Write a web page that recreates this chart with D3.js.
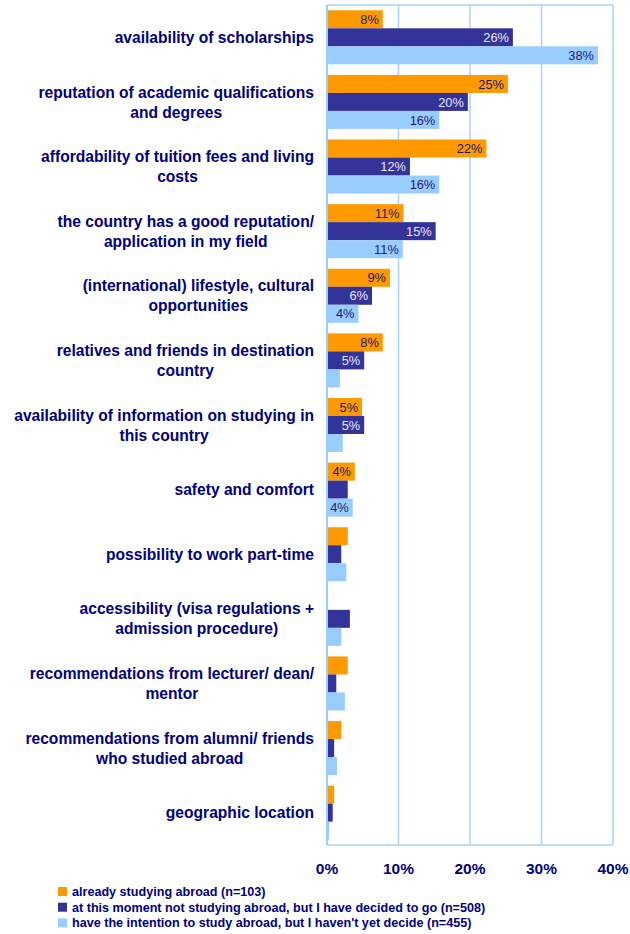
<!DOCTYPE html>
<html>
<head>
<meta charset="utf-8">
<script src="https://cdn.jsdelivr.net/npm/d3@7"></script>
<style>
  body { margin: 0; background: #fff; }
  svg { display: block; font-family: Arial, "Liberation Sans", sans-serif; }
</style>
</head>
<body>
<svg id="svg" width="630" height="934"></svg>
<script>
// reasons (each entry = lines of the wrapped label)
var categories = [
  ['availability of scholarships'],
  ['reputation of academic qualifications', 'and degrees'],
  ['affordability of tuition fees and living', 'costs'],
  ['the country has a good reputation/', 'application in my field'],
  ['(international) lifestyle, cultural', 'opportunities'],
  ['relatives and friends in destination', 'country'],
  ['availability of information on studying in', 'this country'],
  ['safety and comfort'],
  ['possibility to work part-time'],
  ['accessibility (visa regulations +', 'admission procedure)'],
  ['recommendations from lecturer/ dean/', 'mentor'],
  ['recommendations from alumni/ friends', 'who studied abroad'],
  ['geographic location']
];

var seriesNames = [
  'already studying abroad (n=103)',
  'at this moment not studying abroad, but I have decided to go (n=508)',
  "have the intention to study abroad, but I haven't yet decide (n=455)"
];

var alreadyAbroad = [7.8, 25.3, 22.3, 10.7, 8.8, 7.8, 4.9, 3.9, 2.9, 0, 2.9, 2.0, 1.0];
var decidedToGo   = [26.0, 19.7, 11.6, 15.2, 6.3, 5.2, 5.2, 2.9, 2.0, 3.2, 1.3, 1.0, 0.8];
var intention     = [37.9, 15.7, 15.7, 10.6, 4.4, 1.8, 2.2, 3.6, 2.7, 2.0, 2.5, 1.4, 0.3];

var xTicks = [0, 10, 20, 30, 40];

var colors = ['#FF9900', '#333399', '#99CCFF'];
var labelColors = ['#1a1a6e', '#e8e8f4', '#1a1a80'];
var navy = '#000080';

var svg = d3.select('svg');

var plotLeft = 327, plotRight = 613, plotTop = 5, plotBottom = 845;

var x = d3.scaleLinear().domain([0, 40]).range([plotLeft, plotRight]);

var y = d3.scaleBand()
    .domain(d3.range(categories.length))
    .range([plotTop, plotBottom])
    .paddingInner(0.164)
    .paddingOuter(0.082);

var ySub = d3.scaleBand()
    .domain([0, 1, 2])
    .range([0, y.bandwidth()]);

var values = [alreadyAbroad, decidedToGo, intention];

// grid + frame
svg.selectAll('.grid')
    .data(xTicks.slice(1))
    .enter()
    .append('line')
    .attr('class', 'grid')
    .attr('x1', function (d) { return x(d); })
    .attr('x2', function (d) { return x(d); })
    .attr('y1', plotTop)
    .attr('y2', plotBottom)
    .attr('stroke', '#a8d2fc')
    .attr('stroke-width', 1.5);

svg.append('line')
    .attr('x1', plotLeft).attr('x2', plotRight)
    .attr('y1', plotTop).attr('y2', plotTop)
    .attr('stroke', '#a8d2fc')
    .attr('stroke-width', 1.5);

svg.append('line')
    .attr('x1', plotLeft).attr('x2', plotRight)
    .attr('y1', plotBottom).attr('y2', plotBottom)
    .attr('stroke', '#a8d2fc')
    .attr('stroke-width', 1.5);

// bars
var groups = svg.selectAll('.group')
    .data(categories)
    .enter()
    .append('g')
    .attr('class', 'group')
    .attr('transform', function (d, i) { return 'translate(0,' + y(i) + ')'; });

groups.each(function (cat, i) {
  var g = d3.select(this);
  values.forEach(function (vals, s) {
    var v = vals[i];
    if (v <= 0) return;
    g.append('rect')
        .attr('x', x(0))
        .attr('y', ySub(s))
        .attr('width', x(v) - x(0))
        .attr('height', ySub.bandwidth())
        .attr('fill', colors[s]);
    if (v >= 3.5) {
      g.append('text')
          .attr('x', x(v) - 4)
          .attr('y', ySub(s) + ySub.bandwidth() / 2)
          .attr('dy', '0.36em')
          .attr('text-anchor', 'end')
          .attr('font-size', 12.8)
          .attr('fill', labelColors[s])
          .text(Math.round(v) + '%');
    }
  });
});

// left axis line
svg.append('line')
    .attr('x1', plotLeft).attr('x2', plotLeft)
    .attr('y1', plotTop).attr('y2', plotBottom)
    .attr('stroke', '#99CCFF')
    .attr('stroke-width', 2);

// category labels: block right aligned, lines centered inside
var labelRight = 314;
categories.forEach(function (lines, i) {
  var cy = y(i) + y.bandwidth() / 2;
  var g = svg.append('g');
  var texts = lines.map(function (line, k) {
    return g.append('text')
        .attr('y', cy + (k - (lines.length - 1) / 2) * 20)
        .attr('dy', '0.36em')
        .attr('text-anchor', 'middle')
        .attr('font-size', 15.6)
        .attr('font-weight', 'bold')
        .attr('fill', navy)
        .text(line);
  });
  var w = d3.max(texts, function (t) { return t.node().getComputedTextLength(); });
  texts.forEach(function (t) { t.attr('x', labelRight - w / 2); });
});

// x tick labels
svg.selectAll('.xtick')
    .data(xTicks)
    .enter()
    .append('text')
    .attr('class', 'xtick')
    .attr('x', function (d) { return x(d); })
    .attr('y', 874)
    .attr('text-anchor', 'middle')
    .attr('font-size', 15.5)
    .attr('font-weight', 'bold')
    .attr('fill', navy)
    .text(function (d) { return d + '%'; });

// legend
seriesNames.forEach(function (name, s) {
  svg.append('rect')
      .attr('x', 58)
      .attr('y', 887 + s * 15.7)
      .attr('width', 9)
      .attr('height', 9)
      .attr('fill', colors[s]);
  svg.append('text')
      .attr('x', 72)
      .attr('y', 896 + s * 15.7)
      .attr('font-size', 12.6)
      .attr('font-weight', 'bold')
      .attr('fill', navy)
      .text(name);
});
</script>
</body>
</html>
